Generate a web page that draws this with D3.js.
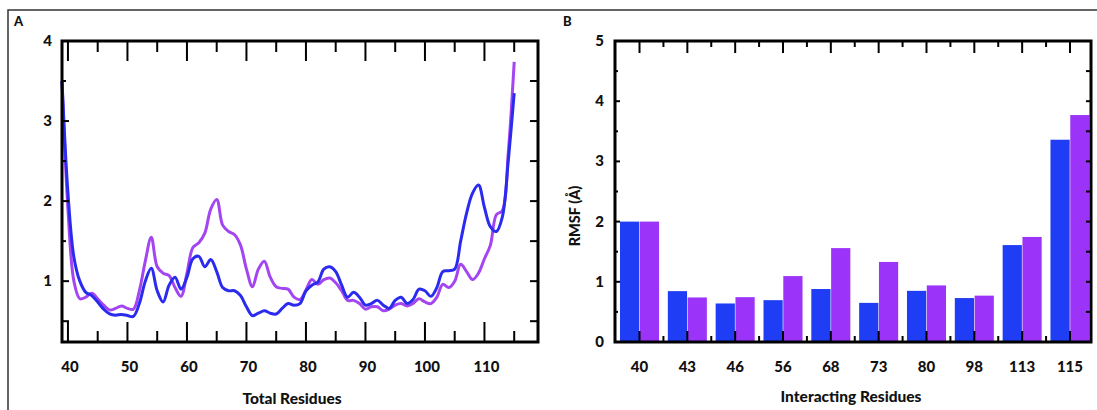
<!DOCTYPE html>
<html>
<head>
<meta charset="utf-8">
<script src="https://cdn.jsdelivr.net/npm/d3@7"></script>
<style>
  html, body { margin: 0; padding: 0; background: #fff; }
  text { font-family: Lato, "Open Sans", sans-serif; font-weight: 900; fill: #111; }
</style>
</head>
<body>
<svg id="chart" width="1097" height="410"></svg>
<script>
// panel A: RMSF per residue
var residues = d3.range(39, 116);
var rmsfBlue = [
  3.5, 2.1, 1.3, 1.0, 0.86, 0.82, 0.74, 0.65, 0.59, 0.575,
  0.585, 0.57, 0.56, 0.72, 1.0, 1.16, 0.88, 0.74, 0.95, 1.05,
  0.90, 1.05, 1.28, 1.31, 1.18, 1.27, 1.12, 0.92, 0.88, 0.88,
  0.82, 0.68, 0.57, 0.60, 0.63, 0.60, 0.59, 0.66, 0.72, 0.70,
  0.72, 0.88, 0.95, 0.99, 1.15, 1.18, 1.12, 0.95, 0.80, 0.86,
  0.80, 0.70, 0.72, 0.76, 0.70, 0.66, 0.76, 0.80, 0.72, 0.77,
  0.90, 0.88, 0.81, 0.92, 1.12, 1.13, 1.15, 1.50, 1.85, 2.10,
  2.20, 1.92, 1.68, 1.62, 1.80, 2.5, 3.35
];
var rmsfPurple = [
  3.5, 1.9, 1.0, 0.78, 0.80, 0.85, 0.78, 0.70, 0.64, 0.66,
  0.69, 0.66, 0.65, 0.88, 1.25, 1.55, 1.18, 1.10, 1.07, 0.92,
  0.81, 1.10, 1.42, 1.48, 1.60, 1.90, 2.02, 1.70, 1.62, 1.58,
  1.45, 1.15, 0.93, 1.15, 1.25, 1.05, 0.93, 0.91, 0.90, 0.80,
  0.77, 0.89, 1.02, 0.96, 1.02, 1.04, 0.98, 0.88, 0.76, 0.76,
  0.72, 0.65, 0.68, 0.68, 0.63, 0.65, 0.70, 0.72, 0.69, 0.72,
  0.78, 0.74, 0.72, 0.80, 0.96, 0.92, 1.00, 1.21, 1.12, 1.02,
  1.10, 1.28, 1.45, 1.83, 1.88, 2.6, 3.74
];
var lineTicksMajor = [40, 50, 60, 70, 80, 90, 100, 110];
var lineTicksMinor = [45, 55, 65, 75, 85, 95, 105, 115];

// panel B: interacting residues
var interacting = ['40', '43', '46', '56', '68', '73', '80', '98', '113', '115'];
var barBlue =   [2.0, 0.845, 0.64, 0.695, 0.88, 0.65, 0.85, 0.73, 1.61, 3.36];
var barPurple = [2.0, 0.74, 0.745, 1.095, 1.56, 1.33, 0.94, 0.77, 1.745, 3.77];

var blueLine = '#2b2bf0', purpleLine = '#a445f2';
var blueBar = '#1f3df4', purpleBar = '#9b34f8';

var svg = d3.select('#chart');

// outer frame
svg.append('path')
  .attr('d', 'M8,410 L8,10 L1097,10')
  .attr('fill', 'none')
  .attr('stroke', '#333')
  .attr('stroke-width', 1.5);

function box(g, x0, y0, x1, y1) {
  g.append('rect')
    .attr('x', x0).attr('y', y0)
    .attr('width', x1 - x0).attr('height', y1 - y0)
    .attr('fill', 'none')
    .attr('stroke', '#000')
    .attr('stroke-width', 3);
}

function tickLines(g, positions, x1, y1, x2, y2) {
  g.selectAll(null).data(positions).enter().append('line')
    .attr('x1', function (d) { return x1(d); })
    .attr('y1', function (d) { return y1(d); })
    .attr('x2', function (d) { return x2(d); })
    .attr('y2', function (d) { return y2(d); })
    .attr('stroke', '#000')
    .attr('stroke-width', 2);
}

// ---------- panel A ----------
var A = { left: 62, right: 538, top: 41, bottom: 342 };
var gA = svg.append('g');

var xA = d3.scaleLinear().domain([39, 119]).range([A.left, A.right]);
var yA = d3.scaleLinear().domain([0.24, 4]).range([A.bottom, A.top]);

gA.append('text').text('A').attr('x', 14).attr('y', 26).style('font-size', '13px');

var line = d3.line()
  .x(function (d, i) { return xA(residues[i]); })
  .y(function (d) { return yA(d); })
  .curve(d3.curveCatmullRom.alpha(0.5));

gA.append('path').datum(rmsfPurple)
  .attr('d', line).attr('fill', 'none')
  .attr('stroke', purpleLine).attr('stroke-width', 3);
gA.append('path').datum(rmsfBlue)
  .attr('d', line).attr('fill', 'none')
  .attr('stroke', blueLine).attr('stroke-width', 3);

// x ticks (inward, top and bottom)
var k = function (v) { return function () { return v; }; };
tickLines(gA, lineTicksMajor, xA, k(A.bottom), xA, k(A.bottom - 20));
tickLines(gA, lineTicksMinor, xA, k(A.bottom), xA, k(A.bottom - 11));
tickLines(gA, lineTicksMajor, xA, k(A.top), xA, k(A.top + 20));
tickLines(gA, lineTicksMinor, xA, k(A.top), xA, k(A.top + 11));
// y ticks
tickLines(gA, [0.5, 1, 2, 3], k(A.left), yA, k(A.left + 7), yA);
tickLines(gA, [1.5, 2.5, 3.5], k(A.left), yA, k(A.left + 4), yA);
tickLines(gA, [0.5, 1, 1.5, 2, 2.5, 3, 3.5], k(A.right), yA, k(A.right - 8), yA);

box(gA, A.left, A.top, A.right, A.bottom);

gA.selectAll('.xlab').data(lineTicksMajor).enter().append('text')
  .attr('x', function (d) { return xA(d) + 2; })
  .attr('y', 372)
  .attr('text-anchor', 'middle')
  .style('font-size', '15px')
  .text(function (d) { return d; });
gA.selectAll('.ylab').data([1, 2, 3, 4]).enter().append('text')
  .attr('x', 52)
  .attr('y', function (d) { return yA(d) + 5; })
  .attr('text-anchor', 'end')
  .style('font-size', '15px')
  .text(function (d) { return d; });
gA.append('text').text('Total Residues')
  .attr('x', 292).attr('y', 404)
  .attr('text-anchor', 'middle')
  .style('font-size', '15.5px');

// ---------- panel B ----------
var B = { left: 615, right: 1091, top: 41, bottom: 342 };
var gB = svg.append('g');

var xB = d3.scaleBand().domain(interacting).range([620, 1089.5]).paddingInner(0.184).paddingOuter(0);
var xSub = d3.scaleBand().domain([0, 1]).range([0, xB.bandwidth()]).paddingInner(0.03);
var yB = d3.scaleLinear().domain([0, 5]).range([B.bottom, B.top]);

gB.append('text').text('B').attr('x', 563).attr('y', 26).style('font-size', '13px');

var groups = gB.selectAll('.grp').data(interacting).enter().append('g')
  .attr('transform', function (d) { return 'translate(' + xB(d) + ',0)'; });
groups.append('rect')
  .attr('x', xSub(0)).attr('width', xSub.bandwidth())
  .attr('y', function (d, i) { return yB(barBlue[i]); })
  .attr('height', function (d, i) { return yB(0) - yB(barBlue[i]); })
  .attr('fill', blueBar);
groups.append('rect')
  .attr('x', xSub(1)).attr('width', xSub.bandwidth())
  .attr('y', function (d, i) { return yB(barPurple[i]); })
  .attr('height', function (d, i) { return yB(0) - yB(barPurple[i]); })
  .attr('fill', purpleBar);

var centerB = function (d) { return xB(d) + xB.bandwidth() / 2; };
var gapB = function (d) { return xB(d) + xB.bandwidth() + (xB.step() - xB.bandwidth()) / 2; };
var inner = interacting.slice(0, -1);
tickLines(gB, interacting, centerB, k(B.bottom), centerB, k(B.bottom - 11));
tickLines(gB, inner, gapB, k(B.bottom), gapB, k(B.bottom - 6));
tickLines(gB, interacting, centerB, k(B.top), centerB, k(B.top + 12));
tickLines(gB, inner, gapB, k(B.top), gapB, k(B.top + 6));
tickLines(gB, [1, 2, 3, 4], k(B.left), yB, k(B.left + 5), yB);
tickLines(gB, [0.5, 1.5, 2.5, 3.5, 4.5], k(B.left), yB, k(B.left + 3), yB);
tickLines(gB, [0.5, 1, 1.5, 2, 2.5, 3, 3.5, 4, 4.5], k(B.right), yB, k(B.right - 5), yB);

box(gB, B.left, B.top, B.right, B.bottom);

gB.selectAll('.xlab').data(interacting).enter().append('text')
  .attr('x', centerB)
  .attr('y', 372)
  .attr('text-anchor', 'middle')
  .style('font-size', '15px')
  .text(function (d) { return d; });
gB.selectAll('.ylab').data([0, 1, 2, 3, 4, 5]).enter().append('text')
  .attr('x', 604)
  .attr('y', function (d) { return yB(d) + 5; })
  .attr('text-anchor', 'end')
  .style('font-size', '15px')
  .text(function (d) { return d; });
gB.append('text').text('RMSF (Å)')
  .attr('transform', 'translate(580,216) rotate(-90)')
  .attr('text-anchor', 'middle')
  .style('font-size', '14.5px');
gB.append('text').text('Interacting Residues')
  .attr('x', 851).attr('y', 402)
  .attr('text-anchor', 'middle')
  .style('font-size', '15.5px');
</script>
</body>
</html>
